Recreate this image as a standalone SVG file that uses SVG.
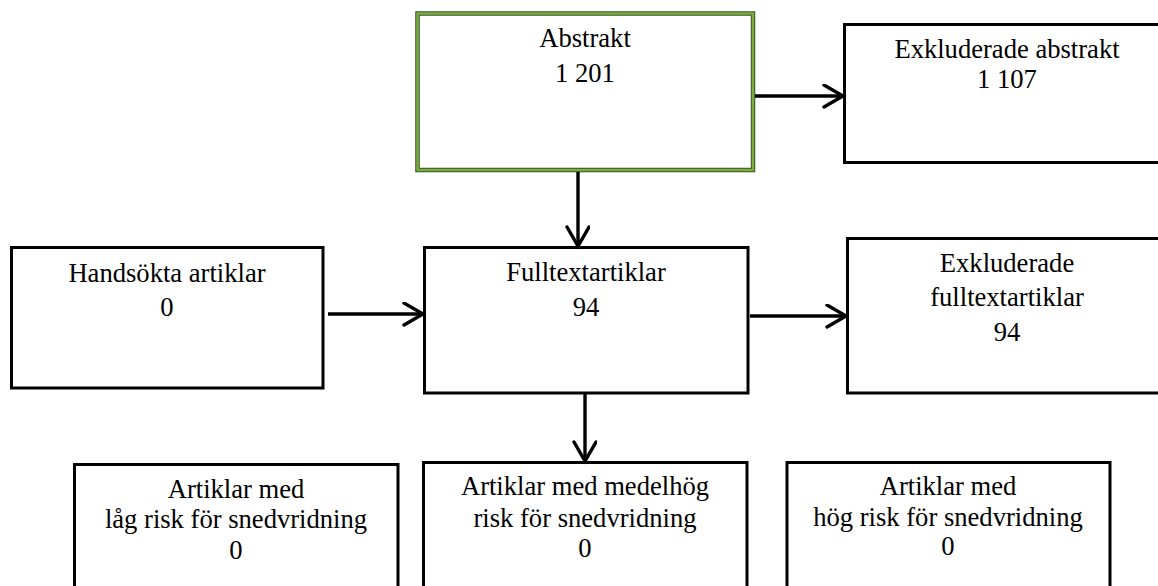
<svg xmlns="http://www.w3.org/2000/svg" width="1158" height="586" viewBox="0 0 1158 586">
<defs>
<marker id="arr" markerUnits="userSpaceOnUse" markerWidth="30" markerHeight="30" refX="21" refY="12" orient="auto">
<path d="M2,1 L21,12 L2,23" fill="none" stroke="#000" stroke-width="3.4" stroke-linecap="round" stroke-linejoin="miter"/>
</marker>
</defs>
<style>
.box{fill:#fff;stroke:#000;stroke-width:3}
.t{font-family:"Liberation Serif","Times New Roman",serif;font-size:26.6px;fill:#000;text-anchor:middle}
.c{fill:none;stroke:#000;stroke-width:3.4}
</style>
<rect width="1158" height="586" fill="#fff"/>
<g id="abstrakt">
<rect x="417.5" y="13.5" width="335.5" height="156.5" fill="#fff" stroke="#3f4f2a" stroke-width="4.5"/>
<rect x="417.5" y="13.5" width="335.5" height="156.5" fill="none" stroke="#77b03c" stroke-width="2.5"/>
<text class="t" x="585" y="47">Abstrakt</text>
<text class="t" x="585" y="82">1 201</text>
</g>
<g id="exkl-abstrakt">
<rect class="box" x="844.5" y="24.5" width="330" height="138"/>
<text class="t" x="1007" y="58">Exkluderade abstrakt</text>
<text class="t" x="1007" y="88">1 107</text>
</g>
<g id="handsokta">
<rect class="box" x="11.5" y="247.5" width="311.5" height="140.5"/>
<text class="t" x="167" y="282">Handsökta artiklar</text>
<text class="t" x="167" y="316">0</text>
</g>
<g id="fulltext">
<rect class="box" x="424.5" y="247.5" width="323.5" height="145.5"/>
<text class="t" x="586" y="281">Fulltextartiklar</text>
<text class="t" x="586" y="316">94</text>
</g>
<g id="exkl-fulltext">
<rect class="box" x="847.5" y="238.5" width="330" height="154.5"/>
<text class="t" x="1007" y="272">Exkluderade</text>
<text class="t" x="1007" y="306">fulltextartiklar</text>
<text class="t" x="1007" y="341">94</text>
</g>
<g id="lag-risk">
<rect class="box" x="74.5" y="464.5" width="323.5" height="140"/>
<text class="t" x="236" y="498">Artiklar med</text>
<text class="t" x="236" y="528">låg risk för snedvridning</text>
<text class="t" x="236" y="559">0</text>
</g>
<g id="medelhog-risk">
<rect class="box" x="423.5" y="462.5" width="323.5" height="140"/>
<text class="t" x="585" y="495">Artiklar med medelhög</text>
<text class="t" x="585" y="527">risk för snedvridning</text>
<text class="t" x="585" y="557">0</text>
</g>
<g id="hog-risk">
<rect class="box" x="787" y="462.5" width="323" height="140"/>
<text class="t" x="948" y="495">Artiklar med</text>
<text class="t" x="948" y="526">hög risk för snedvridning</text>
<text class="t" x="948" y="555">0</text>
</g>
<g id="connectors">
<line class="c" x1="755" y1="96" x2="843" y2="96" marker-end="url(#arr)"/>
<line class="c" x1="578" y1="172" x2="578" y2="246" marker-end="url(#arr)"/>
<line class="c" x1="328" y1="314" x2="423" y2="314" marker-end="url(#arr)"/>
<line class="c" x1="750" y1="316" x2="846" y2="316" marker-end="url(#arr)"/>
<line class="c" x1="585" y1="393" x2="585" y2="461" marker-end="url(#arr)"/>
</g>
</svg>
